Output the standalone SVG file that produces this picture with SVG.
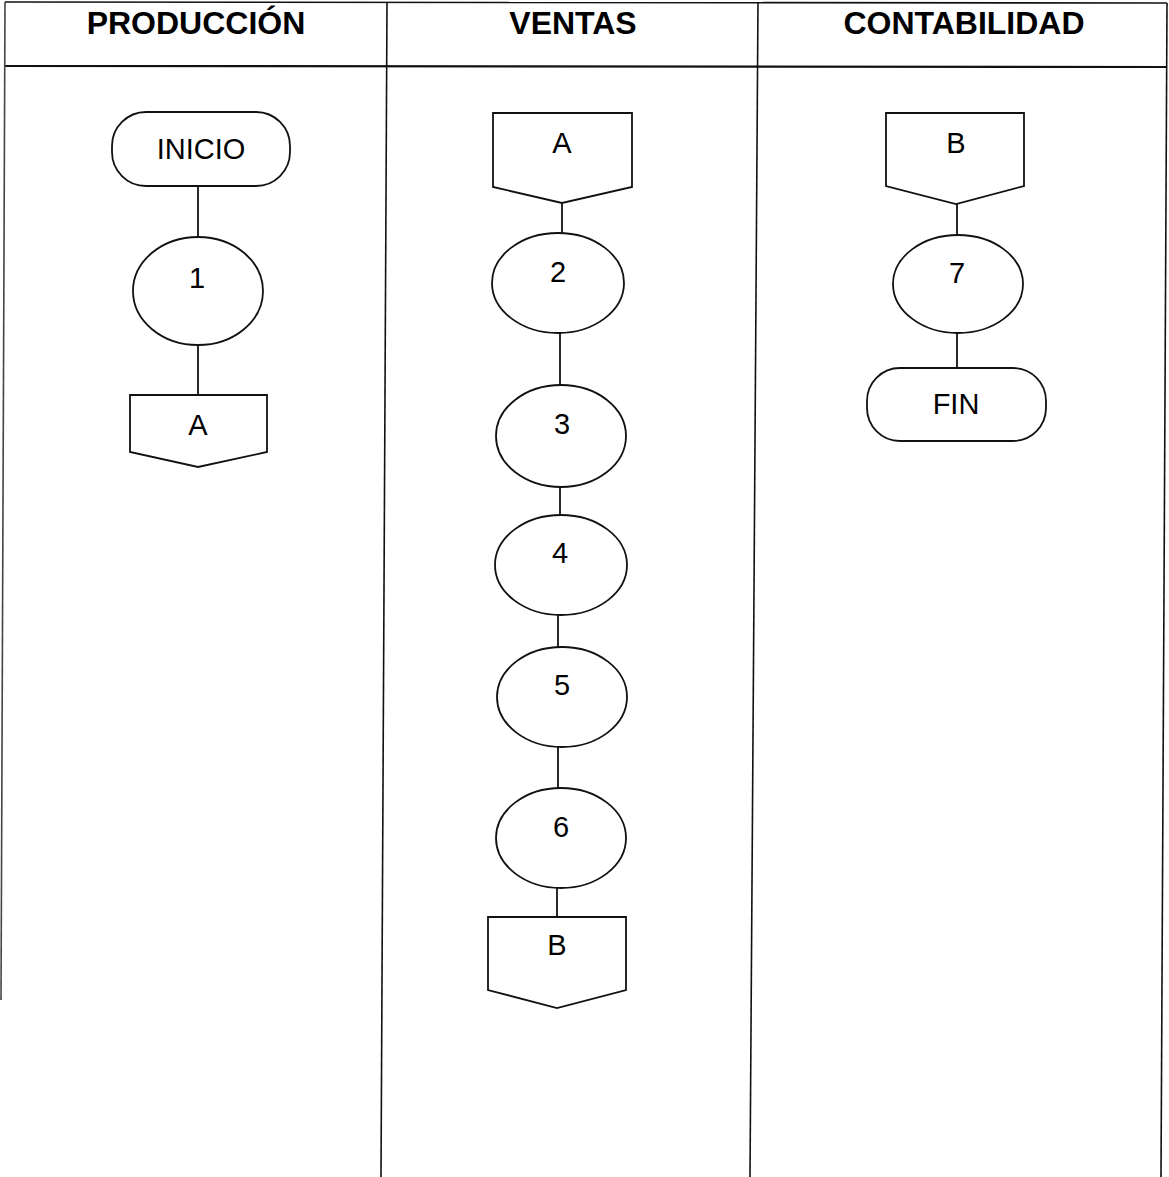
<svg xmlns="http://www.w3.org/2000/svg" width="1169" height="1177" viewBox="0 0 1169 1177">
<style>
.frame{stroke:#111;stroke-width:1.6;fill:none}
.hdr{font-family:"Liberation Sans",Arial,sans-serif;font-weight:bold;font-size:32px;fill:#000;text-anchor:middle}
.shape{fill:#fff;stroke:#111;stroke-width:1.8}
.lbl{font-family:"Liberation Sans",Arial,sans-serif;font-size:29px;fill:#000;text-anchor:middle}
.conn{stroke:#111;stroke-width:1.8;fill:none}
</style>
<rect width="1169" height="1177" fill="#fff"/>
<g id="frame">
<line class="frame" x1="5" y1="2" x2="1167" y2="3"/>
<line class="frame" x1="5" y1="66" x2="1167" y2="67" style="stroke-width:2.2"/>
<line class="frame" x1="5" y1="2" x2="1" y2="1000" style="stroke:#444"/>
<line class="frame" x1="387" y1="2" x2="381" y2="1177"/>
<line class="frame" x1="758" y1="2" x2="750" y2="1177"/>
<line class="frame" x1="1167" y1="3" x2="1161" y2="1177"/>
<text class="hdr" x="196" y="34">PRODUCCIÓN</text>
<text class="hdr" x="573" y="34">VENTAS</text>
<text class="hdr" x="964" y="34">CONTABILIDAD</text>
</g>
<g id="connectors">
<line class="conn" x1="198" y1="186" x2="198" y2="237"/>
<line class="conn" x1="198" y1="345" x2="198" y2="395"/>
<line class="conn" x1="562" y1="203" x2="562" y2="233"/>
<line class="conn" x1="560" y1="333" x2="560" y2="385"/>
<line class="conn" x1="560" y1="487" x2="560" y2="515"/>
<line class="conn" x1="558" y1="615" x2="558" y2="647"/>
<line class="conn" x1="558" y1="747" x2="558" y2="788"/>
<line class="conn" x1="557" y1="888" x2="557" y2="917"/>
<line class="conn" x1="957" y1="204" x2="957" y2="235"/>
<line class="conn" x1="957" y1="333" x2="957" y2="368"/>
</g>
<g id="inicio">
<rect class="shape" x="112" y="112" width="178" height="74" rx="34" ry="34"/>
<text class="lbl" x="201" y="159">INICIO</text>
</g>
<g id="n1">
<ellipse class="shape" cx="198" cy="291" rx="65" ry="54"/>
<text class="lbl" x="197" y="288">1</text>
</g>
<g id="offA-prod">
<polygon class="shape" points="130,395 267,395 267,452 198,467 130,452"/>
<text class="lbl" x="198" y="435">A</text>
</g>
<g id="offA-ventas">
<polygon class="shape" points="493,113 632,113 632,187 562,203 493,187"/>
<text class="lbl" x="562" y="153">A</text>
</g>
<g id="n2">
<ellipse class="shape" cx="558" cy="283" rx="66" ry="50"/>
<text class="lbl" x="558" y="282">2</text>
</g>
<g id="n3">
<ellipse class="shape" cx="561" cy="436" rx="65" ry="51"/>
<text class="lbl" x="562" y="434">3</text>
</g>
<g id="n4">
<ellipse class="shape" cx="561" cy="565" rx="66" ry="50"/>
<text class="lbl" x="560" y="563">4</text>
</g>
<g id="n5">
<ellipse class="shape" cx="562" cy="697" rx="65" ry="50"/>
<text class="lbl" x="562" y="695">5</text>
</g>
<g id="n6">
<ellipse class="shape" cx="561" cy="838" rx="65" ry="50"/>
<text class="lbl" x="561" y="837">6</text>
</g>
<g id="offB-ventas">
<polygon class="shape" points="488,917 626,917 626,990 557,1008 488,990"/>
<text class="lbl" x="557" y="955">B</text>
</g>
<g id="offB-contab">
<polygon class="shape" points="886,113 1024,113 1024,186 956,204 886,186"/>
<text class="lbl" x="956" y="153">B</text>
</g>
<g id="n7">
<ellipse class="shape" cx="958" cy="284" rx="65" ry="49"/>
<text class="lbl" x="957" y="283">7</text>
</g>
<g id="fin">
<rect class="shape" x="867" y="368" width="179" height="73" rx="33" ry="33"/>
<text class="lbl" x="956" y="414">FIN</text>
</g>
</svg>
